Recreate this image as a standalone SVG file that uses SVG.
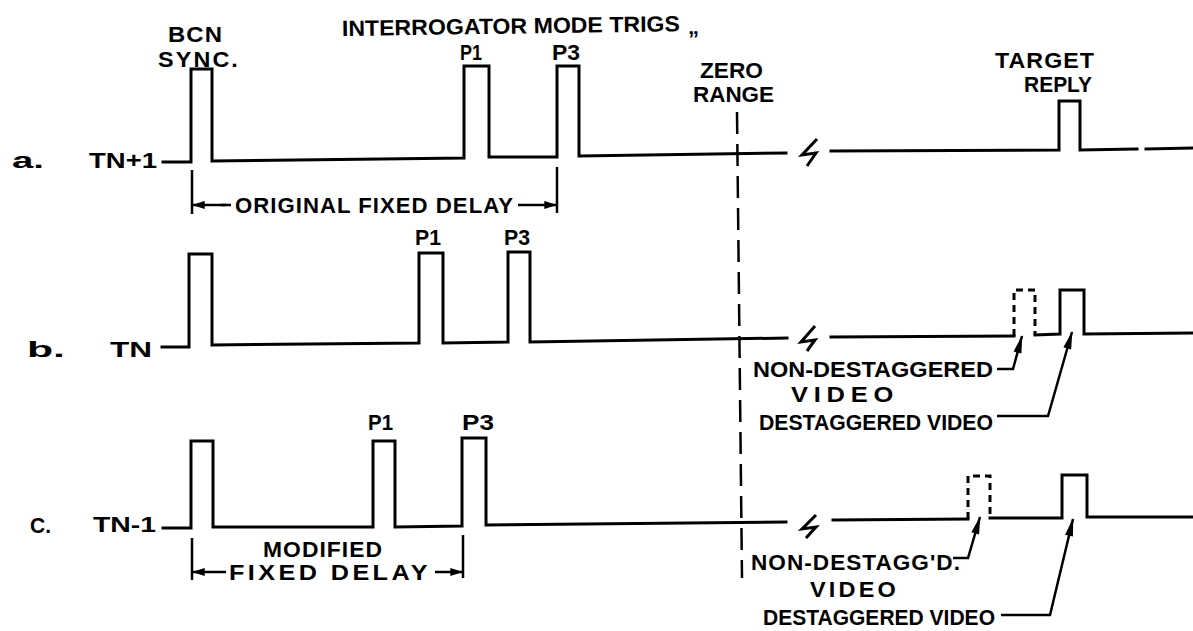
<svg xmlns="http://www.w3.org/2000/svg" width="1193" height="631" viewBox="0 0 1193 631">
<style>
.w{fill:none;stroke:#000;stroke-width:3;stroke-linejoin:miter;stroke-linecap:square}
.d{fill:none;stroke:#000;stroke-width:3;stroke-dasharray:7 5}
.z{fill:none;stroke:#000;stroke-width:2.5;stroke-dasharray:22 10}
.l{fill:none;stroke:#000;stroke-width:2.5}
.k{fill:none;stroke:#000;stroke-width:3;stroke-linejoin:miter}
.t{font-family:"Liberation Sans",Arial,sans-serif;font-weight:bold;fill:#000;font-size:22px}
</style>
<defs>
<marker id="ah" viewBox="0 0 20 10" refX="19" refY="5" markerWidth="20" markerHeight="9" markerUnits="userSpaceOnUse" orient="auto"><path d="M0,0.5 L20,5 L0,9.5 z" fill="#000"/></marker>
<marker id="dh" viewBox="0 0 14 10" refX="13" refY="5" markerWidth="14" markerHeight="9" markerUnits="userSpaceOnUse" orient="auto"><path d="M0,0.5 L14,5 L0,9.5 z" fill="#000"/></marker>
</defs>
<rect width="1193" height="631" fill="#fff"/>

<g id="headers">
<text class="t" x="168" y="42" font-size="23" letter-spacing="1" textLength="55" lengthAdjust="spacingAndGlyphs">BCN</text>
<text class="t" x="158" y="67" font-size="23" letter-spacing="2" textLength="82" lengthAdjust="spacingAndGlyphs">SYNC.</text>
<text class="t" x="342" y="36" transform="rotate(-0.8 342 36)" textLength="338" lengthAdjust="spacingAndGlyphs">INTERROGATOR MODE TRIGS</text>
<text class="t" x="688" y="34" font-size="11">„</text>
<text class="t" x="700" y="78" textLength="63" lengthAdjust="spacingAndGlyphs">ZERO</text>
<text class="t" x="693" y="102" font-size="24" textLength="81" lengthAdjust="spacingAndGlyphs">RANGE</text>
<text class="t" x="995" y="68" letter-spacing="1" textLength="100" lengthAdjust="spacingAndGlyphs">TARGET</text>
<text class="t" x="1024" y="92" textLength="68" lengthAdjust="spacingAndGlyphs">REPLY</text>
</g>

<g id="zero-range">
<path class="z" d="M737,112 L742,578"/>
</g>

<g id="row-a">
<text class="t" x="12" y="168" font-size="32" font-weight="normal" textLength="32" lengthAdjust="spacingAndGlyphs">a.</text>
<text class="t" x="89" y="168" font-size="25" font-weight="normal" textLength="68" lengthAdjust="spacingAndGlyphs">TN+1</text>
<text class="t" x="460" y="60" textLength="22" lengthAdjust="spacingAndGlyphs">P1</text>
<text class="t" x="552" y="60" textLength="28" lengthAdjust="spacingAndGlyphs">P3</text>
<path class="w" d="M163,162 L191,162 L191,69 L212,69 L212,161 L464,158 L464,66 L489,66 L489,157 L557,157 L557,66 L579,66 L579,156 L786,153"/>
<path class="k" d="M817,139 L802,155 L816,153 L807,166"/>
<path class="w" d="M831,151 L1059,150 L1059,101 L1080,101 L1080,150 L1137,149 M1146,149 L1193,148"/>
</g>

<g id="row-b">
<text class="t" x="27" y="357" font-size="38" font-weight="normal" textLength="38" lengthAdjust="spacingAndGlyphs">b.</text>
<text class="t" x="110" y="357" font-size="30" font-weight="normal" textLength="42" lengthAdjust="spacingAndGlyphs">TN</text>
<text class="t" x="415" y="245" textLength="26" lengthAdjust="spacingAndGlyphs">P1</text>
<text class="t" x="504" y="245" textLength="26" lengthAdjust="spacingAndGlyphs">P3</text>
<path class="w" d="M162,347 L189,347 L189,254 L212,254 L212,345 L419,343 L419,253 L443,253 L443,343 L508,342 L508,252 L530,252 L530,342 L787,338"/>
<path class="k" d="M815,326 L801,342 L815,340 L807,351"/>
<path class="w" d="M831,337 L1014,336"/>
<path class="d" d="M1014,336 L1014,290 L1035,290 L1035,335"/>
<path class="w" d="M1035,335 L1060,334 L1060,290 L1084,290 L1084,334 L1193,333"/>
<text class="t" x="753" y="377" textLength="240" lengthAdjust="spacingAndGlyphs">NON-DESTAGGERED</text>
<text class="t" x="791" y="402" letter-spacing="5" textLength="108" lengthAdjust="spacingAndGlyphs">VIDEO</text>
<text class="t" x="759" y="430" textLength="234" lengthAdjust="spacingAndGlyphs">DESTAGGERED VIDEO</text>
</g>

<g id="row-c">
<text class="t" x="30" y="533" font-size="20" font-weight="normal" textLength="21" lengthAdjust="spacingAndGlyphs">C.</text>
<text class="t" x="93" y="532" font-weight="normal" textLength="63" lengthAdjust="spacingAndGlyphs">TN-1</text>
<text class="t" x="368" y="430" textLength="25" lengthAdjust="spacingAndGlyphs">P1</text>
<text class="t" x="462" y="430" textLength="32" lengthAdjust="spacingAndGlyphs">P3</text>
<path class="w" d="M163,528 L191,528 L191,441 L213,441 L213,527 L373,527 L373,441 L395,441 L395,527 L462,526 L462,438 L486,438 L486,525 L786,522"/>
<path class="k" d="M816,515 L802,529 L816,527 L806,538"/>
<path class="w" d="M833,520 L968,519"/>
<path class="d" d="M968,519 L968,476 L990,476 L990,518"/>
<path class="w" d="M990,518 L1062,518 L1062,475 L1087,475 L1087,517 L1193,517"/>
<text class="t" x="751" y="570" letter-spacing="1" textLength="210" lengthAdjust="spacingAndGlyphs">NON-DESTAGG'D.</text>
<text class="t" x="810" y="597" letter-spacing="3" textLength="89" lengthAdjust="spacingAndGlyphs">VIDEO</text>
<text class="t" x="763" y="625" textLength="232" lengthAdjust="spacingAndGlyphs">DESTAGGERED VIDEO</text>
</g>

<g id="dimensions">
<path class="l" d="M192,170 L192,214 M557,167 L557,213"/>
<path class="l" d="M226,205 L193,205" marker-end="url(#dh)"/>
<path class="l" d="M221,205 L231,205"/>
<text class="t" x="235" y="213" font-size="21" letter-spacing="1" textLength="279" lengthAdjust="spacingAndGlyphs">ORIGINAL FIXED DELAY</text>
<path class="l" d="M518,205 L556,205" marker-end="url(#dh)"/>
<path class="l" d="M192,538 L192,580 M463,535 L463,578"/>
<path class="l" d="M226,572 L193,572" marker-end="url(#dh)"/>
<text class="t" x="263" y="557" font-size="21" letter-spacing="1" textLength="120" lengthAdjust="spacingAndGlyphs">MODIFIED</text>
<text class="t" x="229" y="580" font-size="22" letter-spacing="3" textLength="202" lengthAdjust="spacingAndGlyphs">FIXED DELAY</text>
<path class="l" d="M435,572 L462,572" marker-end="url(#dh)"/>
</g>

<g id="connectors">
<path class="l" d="M997,369 L1013,369 L1022,336" marker-end="url(#ah)"/>
<path class="l" d="M997,416 L1048,416 L1072,332" marker-end="url(#ah)"/>
<path class="l" d="M953,558 L968,558 L980,517" marker-end="url(#ah)"/>
<path class="l" d="M1001,615 L1050,615 L1073,519" marker-end="url(#ah)"/>
</g>
</svg>
